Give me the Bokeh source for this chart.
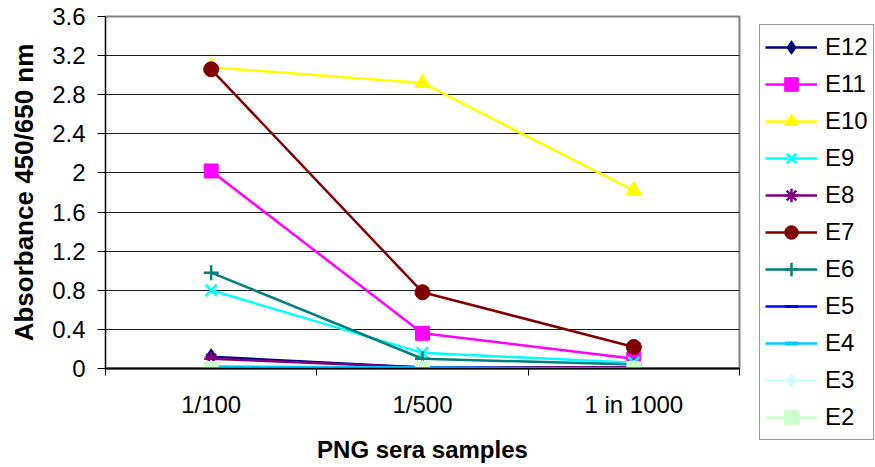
from bokeh.plotting import figure
from bokeh.models import Range1d, FixedTicker, Legend, LegendItem
from bokeh.embed import file_html
from bokeh.resources import INLINE

# ---- data ----
categories = ["1/100", "1/500", "1 in 1000"]
series_names = ["E12", "E11", "E10", "E9", "E8", "E7", "E6", "E5", "E4", "E3", "E2"]
E12 = [0.12, 0.01, 0.01]
E11 = [2.02, 0.36, 0.10]
E10 = [3.08, 2.92, 1.82]
E9 = [0.80, 0.16, 0.06]
E8 = [0.10, 0.01, 0.01]
E7 = [3.06, 0.78, 0.22]
E6 = [0.98, 0.10, 0.04]
E5 = [0.01, 0.01, 0.00]
E4 = [0.02, 0.01, 0.00]
E3 = [0.00, 0.00, 0.00]
E2 = [0.00, 0.00, 0.00]
y_ticks = [0, 0.4, 0.8, 1.2, 1.6, 2.0, 2.4, 2.8, 3.2, 3.6]

values = {"E12": E12, "E11": E11, "E10": E10, "E9": E9, "E8": E8, "E7": E7,
          "E6": E6, "E5": E5, "E4": E4, "E3": E3, "E2": E2}

# colour, marker, size, marker line width
styles = {
    "E12": ("#000080", "diamond", 16, 1),
    "E11": ("#FF00FF", "square", 14, 1),
    "E10": ("#FFFF00", "triangle", 16, 1),
    "E9": ("#00FFFF", "x", 16, 2.5),
    "E8": ("#800080", "asterisk", 14, 2.5),
    "E7": ("#800000", "circle", 15, 1),
    "E6": ("#008080", "cross", 15, 2.5),
    "E5": ("#0000FF", "dash", 7, 3),
    "E4": ("#00CCFF", "dash", 10, 4),
    "E3": ("#CCFFFF", "diamond", 17, 1),
    "E2": ("#CCFFCC", "square", 14, 1),
}

FONT = "Liberation Sans"

xs = [i + 0.5 for i in range(len(categories))]

p = figure(frame_width=634, frame_height=352, output_backend="svg", toolbar_location=None,
           x_range=Range1d(0, len(categories)), y_range=Range1d(0, 3.6),
           min_border_left=105, min_border_right=128, min_border_top=16,
           min_border_bottom=97)

p.background_fill_color = "white"
p.border_fill_color = "white"
p.outline_line_color = "#808080"
p.outline_line_width = 2

# grid
p.xgrid.grid_line_color = None
p.ygrid.grid_line_color = "#1a1a1a"
p.ygrid.grid_line_width = 1
p.ygrid.ticker = FixedTicker(ticks=y_ticks)

# y axis
p.yaxis.ticker = FixedTicker(ticks=y_ticks)
p.yaxis.major_label_overrides = {t: f"{t:g}" for t in y_ticks}
p.yaxis.axis_line_color = "black"
p.yaxis.axis_line_width = 1
p.yaxis.major_tick_in = 0
p.yaxis.major_tick_out = 8
p.yaxis.major_tick_line_color = "black"
p.yaxis.minor_tick_line_color = None
p.yaxis.major_label_text_font = FONT
p.yaxis.major_label_text_font_size = "24px"
p.yaxis.major_label_text_color = "black"
p.yaxis.major_label_standoff = 12
p.yaxis.axis_label = "Absorbance 450/650 nm"
p.yaxis.axis_label_text_font = FONT
p.yaxis.axis_label_text_font_style = "bold"
p.yaxis.axis_label_text_font_size = "26px"
p.yaxis.axis_label_text_color = "black"
p.yaxis.axis_label_standoff = 10

# x axis
p.xaxis.ticker = FixedTicker(ticks=xs, minor_ticks=list(range(len(categories) + 1)))
p.xaxis.major_label_overrides = {x: c for x, c in zip(xs, categories)}
p.xaxis.axis_line_color = "black"
p.xaxis.axis_line_width = 2
p.xaxis.major_tick_line_color = None
p.xaxis.major_tick_in = 0
p.xaxis.major_tick_out = 0
p.xaxis.minor_tick_line_color = "black"
p.xaxis.minor_tick_in = 0
p.xaxis.minor_tick_out = 7
p.xaxis.major_label_text_font = FONT
p.xaxis.major_label_text_font_size = "24px"
p.xaxis.major_label_text_color = "black"
p.xaxis.major_label_standoff = 15
p.xaxis.axis_label = "PNG sera samples"
p.xaxis.axis_label_text_font = FONT
p.xaxis.axis_label_text_font_style = "bold"
p.xaxis.axis_label_text_font_size = "24px"
p.xaxis.axis_label_text_color = "black"
p.xaxis.axis_label_standoff = 15

items = []
for name in series_names:
    color, marker, size, lw = styles[name]
    ys = values[name]
    ln = p.line(xs, ys, line_color=color, line_width=2.5)
    sc = p.scatter(xs, ys, marker=marker, size=size, fill_color=color,
                   line_color=color, line_width=lw)
    items.append(LegendItem(label=name, renderers=[ln, sc]))

legend = Legend(items=items, location=(20, -72))
legend.label_text_font = FONT
legend.label_text_font_size = "24px"
legend.label_text_color = "black"
legend.glyph_width = 52
legend.glyph_height = 34
legend.label_height = 34
legend.label_standoff = 8
legend.spacing = 3
legend.padding = 5
legend.margin = 0
legend.border_line_color = "#333333"
legend.border_line_width = 1
legend.background_fill_color = "white"
legend.background_fill_alpha = 1
p.add_layout(legend, "right")

open("out.html", "w").write(file_html(p, INLINE))
